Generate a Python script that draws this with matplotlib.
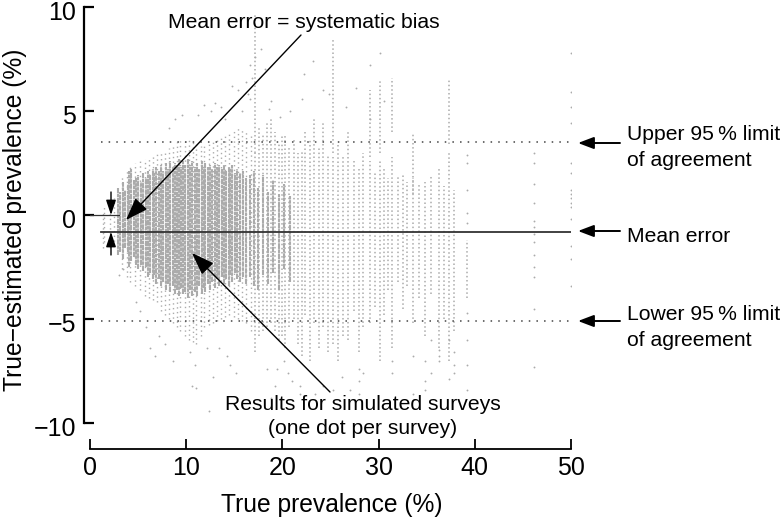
import matplotlib
matplotlib.use("Agg")
import matplotlib.pyplot as plt
from matplotlib.transforms import ScaledTranslation

plt.rcParams['font.family'] = ['Liberation Sans', 'DejaVu Sans']

# tightly packed survey columns, read as vertical runs: x, low, high
dense_x = [2.9,3.1,3.4,3.6,3.9,4.1,4.3,4.6,4.8,5.0,5.3,5.5,5.8,6.0,6.2,6.5,6.7,6.9,7.2,7.4,7.6,7.9,8.1,8.3,8.6,8.8,9.0,9.2,9.5,9.7,9.9,10.2,10.4,10.6,10.9,11.1,11.3,11.6,11.8,12.0,12.3,12.5,12.7,13.0,13.2,13.4,13.7,13.9,14.1,14.4,14.6,14.8,15.1,15.3,15.6,15.9,16.2,16.6,17.0,17.5,18.0,18.5,19.0,19.6,20.2,20.8]
dense_lo = [-1.9,-1.8,-2.1,-1.6,-1.8,-2.5,-2.2,-2.0,-2.4,-2.6,-2.4,-2.7,-2.5,-3.0,-2.8,-3.1,-2.9,-3.3,-3.1,-3.4,-3.2,-3.6,-3.3,-3.7,-3.4,-3.8,-3.6,-3.9,-3.5,-3.8,-3.7,-4.0,-3.6,-3.9,-3.7,-3.9,-3.4,-3.8,-3.5,-3.7,-3.3,-3.6,-3.2,-3.5,-3.1,-3.4,-3.0,-3.3,-3.1,-3.4,-2.9,-3.2,-2.8,-3.1,-3.2,-3.0,-3.3,-3.0,-3.4,-3.6,-2.9,-3.3,-2.8,-3.6,-2.6,-3.2]
dense_hi = [1.3,1.1,1.6,1.2,1.5,2.1,2.2,1.7,1.8,1.9,1.6,2.0,1.8,2.1,1.9,2.2,2.0,2.3,2.1,2.4,2.1,2.5,2.2,2.6,2.3,2.5,2.4,2.7,2.3,2.6,2.4,2.7,2.4,2.6,2.3,2.5,2.2,2.6,2.3,2.5,2.3,2.4,2.2,2.5,2.3,2.4,2.2,2.4,2.1,2.3,2.2,2.4,2.0,2.2,2.0,2.1,1.8,1.9,2.1,1.3,1.9,1.1,1.7,1.0,1.5,0.9]

# fringe of the cloud: thin dotted runs around the dense part
fringe_x = [1.3,1.5,2.1,2.5,3.3,3.8,4.2,4.7,5.2,5.7,6.1,6.6,7.0,7.4,7.8,8.2,8.6,9.0,9.4,9.9,10.3,10.7,11.0,11.5,11.9,12.4,12.8,13.2,13.6,14.0,14.5,15.0,15.4,15.8,16.2,16.7]
fringe_lo = [-1.6,-1.3,-1.6,-1.5,-2.6,-3.0,-3.2,-3.4,-3.6,-3.9,-4.0,-4.1,-4.2,-4.6,-4.8,-5.0,-5.2,-5.4,-5.6,-5.8,-6.0,-6.1,-6.2,-5.8,-5.4,-5.3,-5.2,-5.1,-5.0,-4.9,-4.8,-4.9,-5.0,-5.1,-5.2,-5.6]
fringe_hi = [0.2,0.4,0.6,0.8,1.9,2.1,2.4,2.5,2.6,2.7,2.8,2.9,3.0,3.0,3.1,3.2,3.3,3.5,3.6,3.6,3.6,3.5,3.4,3.3,3.3,3.4,3.5,3.7,3.8,3.9,4.0,4.1,4.2,4.2,4.1,3.8]

# columns of the right-hand part, drawn as dotted runs: x, low, high
loose_x = [17.2,17.2,17.6,18.0,18.4,18.8,19.2,19.6,20.0,20.3,20.7,21.2,21.6,22.0,22.4,22.9,23.3,23.8,24.2,24.7,25.3,25.3,25.8,26.3,26.8,27.4,28.0,28.4,29.1,29.1,29.6,30.1,30.1,30.6,31.0,31.4,31.4,32.0,32.5,33.0,33.6,33.6,34.2,34.8,35.4,36.3,36.8,37.3,37.3,37.8,39.2]
loose_lo = [-6.6,3.0,-5.8,-5.6,-5.4,-5.2,-5.6,-6.0,-5.8,-6.4,-5.4,-5.0,-6.2,-6.8,-4.8,-7.0,-5.2,-6.4,-5.4,-6.6,-6.2,3.0,-7.0,-5.8,-6.0,-4.6,-6.6,-5.4,-5.2,2.8,-4.4,-7.0,3.0,-4.8,-3.6,-6.4,4.0,-3.2,-4.5,-3.4,-5.2,1.0,-4.0,-5.8,-3.8,-6.4,-5.0,-7.0,3.4,-5.6,-4.0]
loose_hi = [3.0,9.7,4.2,3.9,4.4,4.6,4.0,3.4,3.8,3.9,3.2,3.7,3.0,3.1,4.0,3.6,4.7,3.2,4.4,2.9,2.8,8.5,3.4,2.8,4.0,2.6,2.2,3.0,2.6,6.0,2.1,2.6,6.5,2.2,1.8,2.8,6.6,1.9,2.0,1.6,1.8,3.9,1.5,1.6,1.9,2.2,1.4,3.0,6.5,1.2,-1.2]

# isolated surveys
sparse_x = [50,50,50,50,50,50,50,50,50,50,50,50,50,50,50,
            46.2,46.2,46.2,46.2,46.2,46.2,46.2,46.2,46.2,46.2,46.2,46.2,46.2,
            39.2,39.2,39.2,39.2,39.2,39.2,39.2,39.2,39.2,
            37.8,37.8,37.8,37.3,37.3,36.3,36.3,36.3,35.4,35.4,34.8,34.8,34.8,33.6,33.6,
            31.4,31.4,30.6,30.1,29.1,29.1,28.4,28.0,28.0,28.0,27.0,26.2,25.3,24.2,23.4,23.2,
            22.2,21.8,21.0,20.6,20.2,19.4,19.2,18.8,18.4,17.2,16.6,16.2,15.4,14.8,13.6,13.0,
            12.6,11.9,11.2,10.9,10.6,10.4,9.6,8.8,8.2,7.8,7.2,6.8,6.2,5.8,5.2,4.8,3.4,3.0,
            18.2,17.8,16.4,15.2,14.6,14.2,13.4,12.8,12.2,11.0,8.6,16.8,16.6,18.8,21.8,
            24.8,24.2,26.6,27.6,22.0,20.8,19.8,18.6,15.8,14.0,12.4]
sparse_y = [7.8,5.9,5.2,4.4,2.5,2.0,1.2,1.0,0.8,0.6,0.4,-0.2,-1.5,-2.1,-3.4,
            3.0,2.5,1.5,0.6,-0.3,-0.6,-0.9,-1.3,-1.9,-2.5,-3.0,-4.5,-7.3,
            2.9,2.5,1.2,0.1,-0.4,-4.7,-6.0,-7.2,-8.4,
            -6.6,-7.2,-7.6,-7.9,-6.0,-7.0,-6.8,-6.5,-6.0,-7.6,-7.0,-8.0,-8.4,-6.8,-8.6,
            -7.0,-7.6,5.5,7.8,7.2,4.6,-7.6,-7.4,-8.0,-8.6,-8.4,-7.8,-8.4,-8.2,-8.6,7.4,
            6.8,-8.6,-8.0,-7.6,-7.0,-7.4,-8.2,-8.8,-7.4,7.6,7.2,6.4,6.0,6.2,5.2,5.4,
            5.0,5.3,4.8,-7.2,-8.2,-6.6,4.8,4.6,4.2,-6.2,-5.8,-6.8,-6.4,-5.4,-4.6,-4.2,-2.6,-2.9,
            7.0,8.0,5.8,-7.6,-7.2,-6.8,-6.4,-7.8,-6.4,-8.3,-7.0,6.6,5.6,5.5,-8.2,
            5.8,6.0,5.2,6.1,5.6,5.0,4.7,5.1,5.0,4.6,-9.4]

x_ticks = [0, 10, 20, 30, 40, 50]
y_ticks = [-10, -5, 0, 5, 10]
y_labels = ['\u221210', '\u22125', '0', '5', '10']
mean_error = -0.8
upper_limit = 3.5
lower_limit = -5.1

W, H = 780, 521
fig = plt.figure(figsize=(W/100, H/100), dpi=100)
ax = fig.add_axes([90/W, 1-423/H, (571-90)/W, (423-7)/H])
ax.set_xlim(0, 50)
ax.set_ylim(-10, 10)
ax.patch.set_alpha(0)

grey = '#ababab'
ax.vlines(dense_x, dense_lo, dense_hi, color=grey, lw=1.5, linestyles=[(0, (2.6, 0.35, 1.7, 0.3))], zorder=1)
ax.vlines(fringe_x, fringe_lo, fringe_hi, color=grey, lw=1.0, linestyles=[(0, (1.0, 2.4))], zorder=1)
ax.vlines(loose_x, loose_lo, loose_hi, color=grey, lw=1.1, linestyles=[(0, (1.0, 1.7))], zorder=1)
ax.scatter(sparse_x, sparse_y, s=1.8, color=grey, linewidths=0, zorder=1)

ax.plot([1.1, 50], [mean_error]*2, color='#333333', lw=1.3, zorder=3)
ax.plot([1.1, 50], [upper_limit]*2, color='#444444', lw=1.1, ls=(0, (1, 4)), zorder=3)
ax.plot([1.1, 50], [lower_limit]*2, color='#444444', lw=1.1, ls=(0, (1, 4)), zorder=3)
ax.plot([0, 3.0], [0, 0], color='#333333', lw=0.9, zorder=3)

for s in ['top', 'right']:
    ax.spines[s].set_visible(False)
ax.spines['left'].set_position(('outward', 4.3))
ax.spines['bottom'].set_position(('outward', 19))
ax.spines['left'].set_linewidth(1.6)
ax.spines['bottom'].set_linewidth(1.3)
ax.set_xticks(x_ticks)
ax.set_yticks(y_ticks)
ax.set_yticklabels(y_labels)
ax.tick_params(axis='y', direction='in', length=7.5, width=1.6, labelsize=18, pad=5.5)
ax.tick_params(axis='x', direction='in', length=7, width=1.3, labelsize=18, pad=4.5)
for lab in ax.get_yticklabels():
    lab.set_transform(lab.get_transform() + ScaledTranslation(0, -4/100, fig.dpi_scale_trans))
ax.set_xlabel('True prevalence (%)', fontsize=17.7)
ax.set_ylabel('True\u2212estimated prevalence (%)', fontsize=17.7)
ax.xaxis.set_label_coords((332-90)/481, (423-493)/416)
ax.yaxis.set_label_coords((27-90)/481, (423-220)/416)

def d(px, py):
    return ((px-90)/(571-90)*50, 10-(py-7)/(423-7)*20)

def arrow(start, end, lw=1.0, length=0.95, width=0.36):
    ax.annotate('', xy=d(*end), xytext=d(*start), annotation_clip=False, zorder=5,
                arrowprops=dict(arrowstyle=f'-|>,head_length={length},head_width={width}',
                                color='black', lw=lw, shrinkA=0, shrinkB=0))

arrow((301, 35), (126, 220), 1.0, 1.4, 0.5)
arrow((330, 392), (192, 253), 1.0, 1.4, 0.5)
arrow((620, 143), (578, 143), 1.4)
arrow((620, 231), (578, 231), 1.4)
arrow((620, 321), (578, 321), 1.4)
arrow((111, 192), (111, 215), 1.0, 0.9, 0.3)
arrow((111, 255), (111, 232), 1.0, 0.9, 0.3)

fs = 15.2
def label(px, py, s, ha='left'):
    x, y = d(px, py)
    ax.text(x, y, s, fontsize=fs, ha=ha, va='center', zorder=6, clip_on=False)

label(304, 22, 'Mean error = systematic bias', 'center')
label(627, 135, 'Upper 95\u2009% limit')
label(627, 160, 'of agreement')
label(627, 236, 'Mean error')
label(627, 315, 'Lower 95\u2009% limit')
label(627, 340, 'of agreement')
label(363, 404, 'Results for simulated surveys', 'center')
label(363, 429, '(one dot per survey)', 'center')

fig.savefig('out.png', dpi=100)
